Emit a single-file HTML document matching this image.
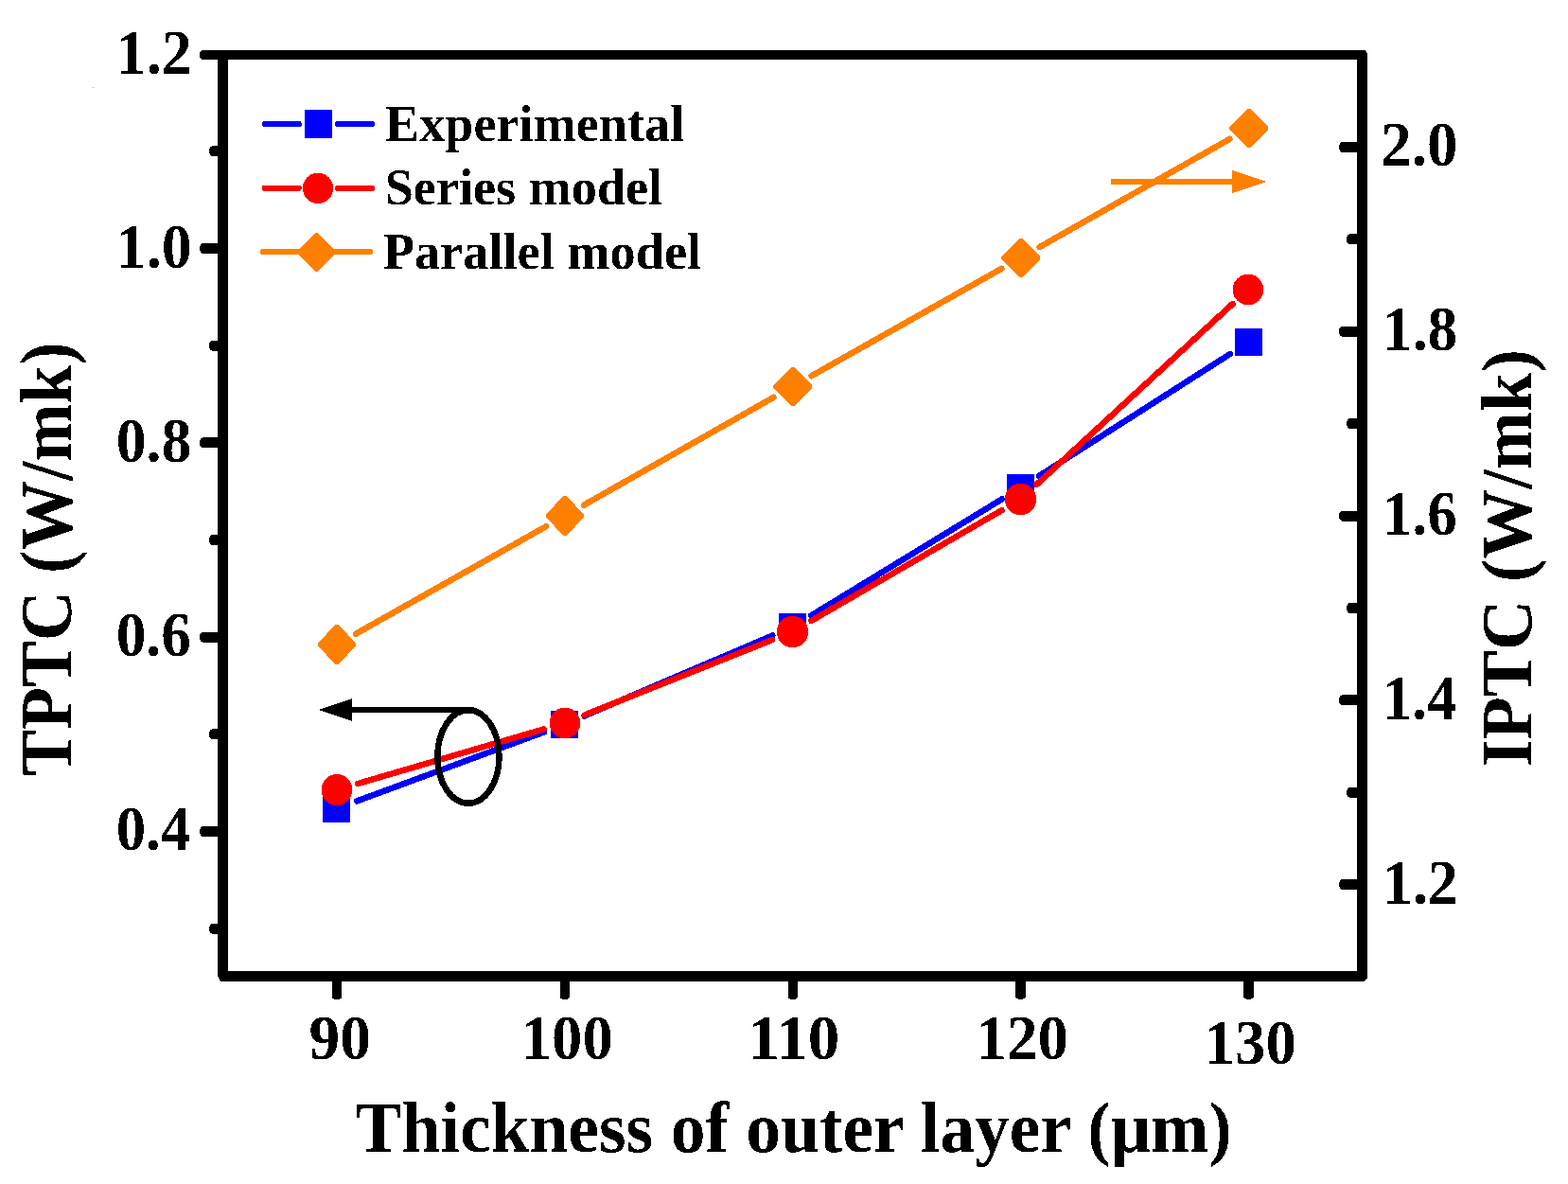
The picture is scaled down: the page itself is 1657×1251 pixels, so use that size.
<!DOCTYPE html>
<html lang="en"><head><meta charset="utf-8"><title>Thermal conductivity vs thickness of outer layer</title>
<style>html,body{margin:0;padding:0;background:#fff;}body{width:1657px;height:1251px;overflow:hidden;}svg{display:block;}text{font-family:'Liberation Serif', serif;font-weight:bold;}</style></head><body>
<svg width="1657" height="1251" viewBox="0 0 1657 1251" shape-rendering="crispEdges">
<defs><filter id="bw" x="-5%" y="-20%" width="110%" height="140%" color-interpolation-filters="sRGB"><feComponentTransfer><feFuncA type="discrete" tableValues="0 1"/></feComponentTransfer></filter></defs>
<rect width="1657" height="1251" fill="#fff"/>
<g id="series-parallel">
<path d="M376.03 669.70L576.97 556.30M617.00 533.65L817.50 419.85M857.53 397.20L1058.47 283.80M1098.50 261.13L1299.50 146.87" fill="none" stroke="#ff8000" stroke-width="6.5" stroke-linecap="round"/>
<polygon points="336.00,679.50 354.50,660.00 357.50,660.00 376.00,679.50 376.00,682.50 357.50,702.00 354.50,702.00 336.00,682.50" fill="#ff8000"/>
<polygon points="577.00,543.50 595.50,524.00 598.50,524.00 617.00,543.50 617.00,546.50 598.50,566.00 595.50,566.00 577.00,546.50" fill="#ff8000"/>
<polygon points="817.00,407.00 836.00,388.00 839.00,388.00 858.00,407.00 858.00,410.00 839.00,429.00 836.00,429.00 817.00,410.00" fill="#ff8000"/>
<polygon points="1058.00,271.00 1077.00,252.00 1080.00,252.00 1099.00,271.00 1099.00,274.00 1080.00,293.00 1077.00,293.00 1058.00,274.00" fill="#ff8000"/>
<polygon points="1299.00,134.00 1318.00,115.00 1321.00,115.00 1340.00,134.00 1340.00,137.00 1321.00,156.00 1318.00,156.00 1299.00,137.00" fill="#ff8000"/>
</g>
<g id="series-experimental">
<path d="M377.08 846.44L574.92 773.46M617.65 756.45L816.35 671.45M857.14 650.42L1058.86 527.38M1097.88 503.02L1300.12 373.88" fill="none" stroke="#0000ff" stroke-width="6.5" stroke-linecap="round"/>
<rect x="341.00" y="839.90" width="29" height="29" fill="#0000ff"/>
<rect x="582.00" y="751.00" width="29" height="29" fill="#0000ff"/>
<rect x="823.00" y="647.90" width="29" height="29" fill="#0000ff"/>
<rect x="1064.00" y="500.90" width="29" height="29" fill="#0000ff"/>
<rect x="1305.00" y="347.00" width="29" height="29" fill="#0000ff"/>
</g>
<g id="series-series">
<path d="M378.07 828.03L574.43 770.47M617.85 755.45L816.15 676.05M857.39 655.95L1058.61 539.15M1095.41 512.01L1302.59 321.09" fill="none" stroke="#ff0000" stroke-width="6.5" stroke-linecap="round"/>
<ellipse cx="356.00" cy="834.50" rx="16.35" ry="16.7" fill="#ff0000"/>
<ellipse cx="597.00" cy="764.00" rx="16.35" ry="16.35" fill="#ff0000"/>
<ellipse cx="837.50" cy="667.50" rx="16.7" ry="16.7" fill="#ff0000"/>
<ellipse cx="1078.50" cy="527.50" rx="16.7" ry="16.7" fill="#ff0000"/>
<ellipse cx="1319.00" cy="306.00" rx="16.35" ry="16.35" fill="#ff0000"/>
</g>
<g id="annotations">
<rect x="1174" y="188.8" width="129" height="6.2" fill="#ff8000"/>
<polygon points="1302,180 1338.6,192 1302,204" fill="#ff8000"/>
<ellipse cx="494.9" cy="799.5" rx="32.6" ry="49.2" fill="none" stroke="#000" stroke-width="6.5"/>
<rect x="371" y="746.9" width="129.5" height="6.2" fill="#000"/>
<polygon points="336.4,750 372,738 372,762" fill="#000"/>
</g>
<g id="axes" fill="#000">
<path fill-rule="evenodd" d="M230 53H1442.4L1445 56.2V1033.6L1441.7 1037H233.3L230 1031.6ZM241 63V1026H1434V63Z"/>
<path d="M232.00 53.00H214.50A3.6 5.0 0 0 0 214.50 63.00H232.00Z"/>
<path d="M232.00 154.33H224.60A3.6 5.5 0 0 0 224.60 165.33H232.00Z"/>
<path d="M232.00 257.00H214.50A3.6 5.5 0 0 0 214.50 268.00H232.00Z"/>
<path d="M232.00 359.67H224.60A3.6 5.5 0 0 0 224.60 370.67H232.00Z"/>
<path d="M232.00 462.34H214.50A3.6 5.5 0 0 0 214.50 473.34H232.00Z"/>
<path d="M232.00 565.01H224.60A3.6 5.5 0 0 0 224.60 576.01H232.00Z"/>
<path d="M232.00 667.68H214.50A3.6 5.5 0 0 0 214.50 678.68H232.00Z"/>
<path d="M232.00 770.35H224.60A3.6 5.5 0 0 0 224.60 781.35H232.00Z"/>
<path d="M232.00 873.02H214.50A3.6 5.5 0 0 0 214.50 884.02H232.00Z"/>
<path d="M232.00 975.69H224.60A3.6 5.5 0 0 0 224.60 986.69H232.00Z"/>
<path d="M1436.00 149.90H1418.50A3.6 5.5 0 0 0 1418.50 160.90H1436.00Z"/>
<path d="M1436.00 247.30H1426.60A3.6 5.5 0 0 0 1426.60 258.30H1436.00Z"/>
<path d="M1436.00 344.70H1418.50A3.6 5.5 0 0 0 1418.50 355.70H1436.00Z"/>
<path d="M1436.00 442.10H1426.60A3.6 5.5 0 0 0 1426.60 453.10H1436.00Z"/>
<path d="M1436.00 539.50H1418.50A3.6 5.5 0 0 0 1418.50 550.50H1436.00Z"/>
<path d="M1436.00 636.90H1426.60A3.6 5.5 0 0 0 1426.60 647.90H1436.00Z"/>
<path d="M1436.00 734.30H1418.50A3.6 5.5 0 0 0 1418.50 745.30H1436.00Z"/>
<path d="M1436.00 831.70H1426.60A3.6 5.5 0 0 0 1426.60 842.70H1436.00Z"/>
<path d="M1436.00 929.10H1418.50A3.6 5.5 0 0 0 1418.50 940.10H1436.00Z"/>
<path d="M350.75 1028.00V1053.20A5.25 2.8 0 0 0 361.25 1053.20V1028.00Z"/>
<path d="M591.62 1028.00V1053.20A5.25 2.8 0 0 0 602.12 1053.20V1028.00Z"/>
<path d="M832.50 1028.00V1053.20A5.25 2.8 0 0 0 843.00 1053.20V1028.00Z"/>
<path d="M1073.38 1028.00V1053.20A5.25 2.8 0 0 0 1083.88 1053.20V1028.00Z"/>
<path d="M1314.25 1028.00V1053.20A5.25 2.8 0 0 0 1324.75 1053.20V1028.00Z"/>
</g>
<g id="tick-labels-left" filter="url(#bw)">
<text transform="translate(122.77 78.00) scale(0.9537 1)" font-size="67.20">1.2</text>
<text transform="translate(122.80 283.00) scale(0.9495 1)" font-size="67.20">1.0</text>
<text transform="translate(122.65 488.00) scale(0.9473 1)" font-size="67.20">0.8</text>
<text transform="translate(122.66 693.00) scale(0.9433 1)" font-size="67.20">0.6</text>
<text transform="translate(122.69 898.00) scale(0.9354 1)" font-size="67.20">0.4</text>
</g>
<g id="tick-labels-right" filter="url(#bw)">
<text transform="translate(1459.30 175.00) scale(0.9679 1)" font-size="67.20">2.0</text>
<text transform="translate(1460.93 370.00) scale(0.9440 1)" font-size="67.20">1.8</text>
<text transform="translate(1460.95 565.00) scale(0.9398 1)" font-size="67.20">1.6</text>
<text transform="translate(1460.99 760.00) scale(0.9317 1)" font-size="67.20">1.4</text>
<text transform="translate(1460.88 955.00) scale(0.9524 1)" font-size="67.20">1.2</text>
</g>
<g id="tick-labels-bottom" filter="url(#bw)">
<text transform="translate(326.44 1119.00) scale(0.9745 1)" font-size="67.20">90</text>
<text transform="translate(550.72 1119.00) scale(0.9629 1)" font-size="67.20">100</text>
<text transform="translate(790.44 1119.00) scale(0.9973 1)" font-size="67.20">110</text>
<text transform="translate(1031.60 1119.00) scale(0.9673 1)" font-size="67.20">120</text>
<text transform="translate(1272.72 1124.00) scale(0.9629 1)" font-size="67.20">130</text>
</g>
<g id="axis-titles" filter="url(#bw)">
<text transform="translate(375.50 1216.90) scale(0.9563 1)" font-size="76.92" fill="#000">Thickness of outer layer (µm)</text>
<text transform="translate(75.30 819.80) rotate(-90) scale(0.9463 1)" font-size="77.54">TPTC (W/mk)</text>
<text transform="translate(1618.10 810.19) rotate(-90) scale(0.9621 1)" font-size="76.77">IPTC (W/mk)</text>
</g>
<g id="legend">
<path d="M280 131H315.5M357.2 131H392.8" stroke="#0000ff" stroke-width="6.5" stroke-linecap="round" fill="none"/>
<rect x="322.1" y="116" width="29" height="29.8" fill="#0000ff"/>
<g filter="url(#bw)">
<text transform="translate(407.09 149.20) scale(0.9863 1)" font-size="54.96" fill="#000">Experimental</text>
<path d="M280 198.8H315.5M357.2 198.8H392.8" stroke="#ff0000" stroke-width="6.5" stroke-linecap="round" fill="none"/>
<circle cx="336" cy="198.8" r="16.2" fill="#ff0000"/>
<text transform="translate(406.72 215.90) scale(0.9887 1)" font-size="54.80">Series model</text>
<path d="M278.3 266H390.6" stroke="#ff8000" stroke-width="6.5" stroke-linecap="round" fill="none"/>
<polygon points="315.00,265.00 333.00,246.00 336.00,246.00 354.00,265.00 354.00,268.00 336.00,287.00 333.00,287.00 315.00,268.00" fill="#ff8000"/>
<text transform="translate(404.79 283.80) scale(1.0022 1)" font-size="54.20" fill="#000">Parallel model</text>
</g>
</g>
<rect x="98" y="92" width="1" height="1" fill="#ff8000"/>
</svg></body></html>
